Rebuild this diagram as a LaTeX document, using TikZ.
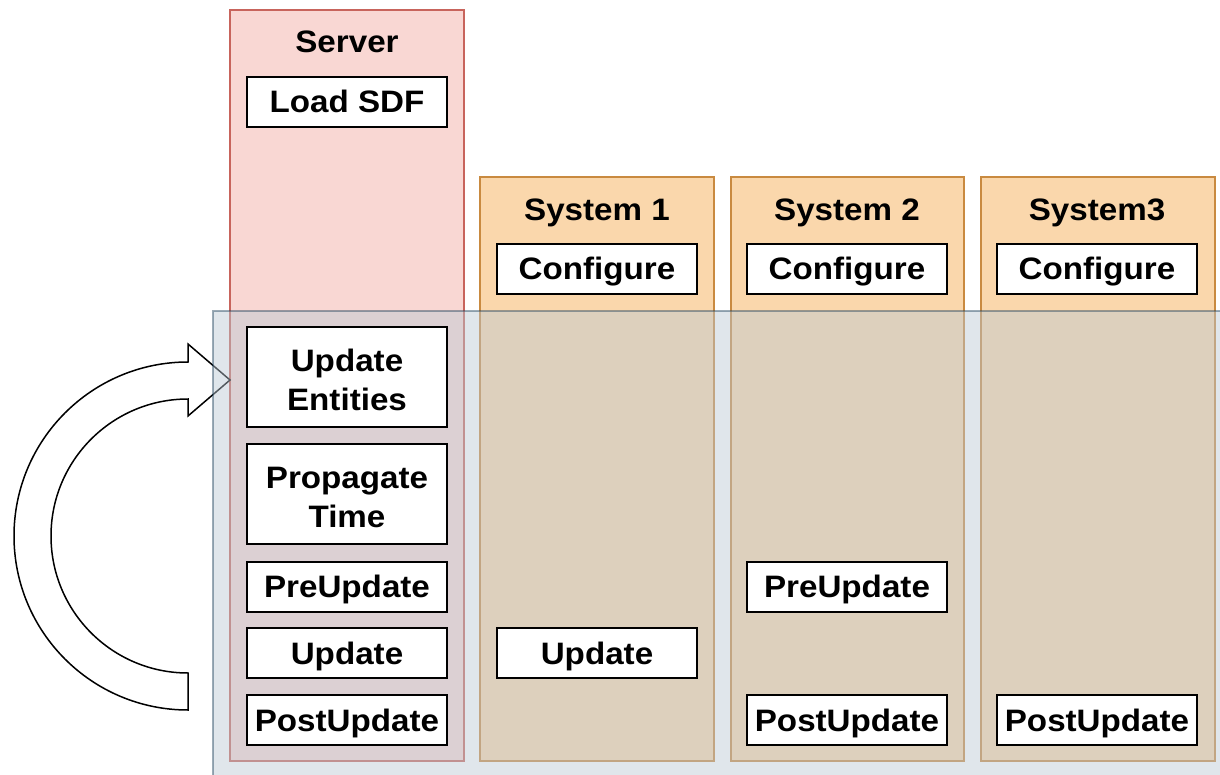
\documentclass[tikz,border=0pt]{standalone}
\usepackage{fontspec}
\setmainfont{Liberation Sans}[FakeStretch=1.07]
\definecolor{srvfill}{HTML}{F9D7D3}
\definecolor{srvdraw}{HTML}{C8645C}
\definecolor{sysfill}{HTML}{FAD7AC}
\definecolor{sysdraw}{HTML}{C98A40}
\definecolor{loopfill}{HTML}{BAC8D3}
\definecolor{loopdraw}{HTML}{23445D}
\tikzset{
  lbl/.style={font=\bfseries\fontsize{31}{39}\selectfont, align=center},
  title/.style={lbl, text height=22pt, text depth=0pt},
  servercol/.style={draw=srvdraw, fill=srvfill, line width=1.5pt, inner sep=0pt},
  syscol/.style={draw=sysdraw, fill=sysfill, line width=1.5pt, inner sep=0pt},
  stage/.style={lbl, draw=black, fill=white, line width=2pt, inner sep=0pt,
    minimum width=200pt},
  onerow/.style={stage, minimum height=50pt, text height=22pt, text depth=0pt},
  tworow/.style={stage, minimum height=100pt, text height=67pt, text depth=0pt},
  looparrow/.style={draw=black, fill=white, line width=1.5pt, line join=miter},
}
\begin{document}
\begin{tikzpicture}[x=1pt, y=-1pt]
  \useasboundingbox (0,0) rectangle (1220,775);

  % column backgrounds
  \node[servercol, minimum width=234pt, minimum height=751pt] (server) at (347,385.5) {};
  \node[syscol, minimum width=234pt, minimum height=584pt] (sys1) at (597,469) {};
  \node[syscol, minimum width=233pt, minimum height=584pt] (sys2) at (847.5,469) {};
  \node[syscol, minimum width=234pt, minimum height=584pt] (sys3) at (1098,469) {};

  % loop arrow back to the start of the iteration
  \draw[looparrow] (188,710) arc[start angle=-90, end angle=-270, radius=174pt]
    -- (188,344) -- (230,380) -- (188,416) -- (188,399)
    arc[start angle=90, end angle=270, radius=137pt] -- cycle;

  % simulation loop region
  \node[draw=loopdraw, fill=loopfill, opacity=0.45, line width=1.5pt, inner sep=0pt,
    minimum width=1012pt, minimum height=469pt] (loop) at (719,545.5) {};

  % titles
  \node[title] (servertitle) at (347,42) {Server};
  \node[title] (sys1title) at (597,210) {System 1};
  \node[title] (sys2title) at (847,210) {System 2};
  \node[title] (sys3title) at (1097,210) {System3};

  % server stages
  \node[onerow] (loadsdf) at (347,102) {Load SDF};
  \node[tworow] (entities) at (347,377) {Update\\Entities};
  \node[tworow] (proptime) at (347,494) {Propagate\\Time};
  \node[onerow] (srvpre) at (347,586.5) {PreUpdate};
  \node[onerow] (srvupd) at (347,653) {Update};
  \node[onerow] (srvpost) at (347,720) {PostUpdate};

  % system stages
  \node[onerow] (cfg1) at (597,269) {Configure};
  \node[onerow] (upd1) at (597,653) {Update};
  \node[onerow] (cfg2) at (847,269) {Configure};
  \node[onerow] (pre2) at (847,586.5) {PreUpdate};
  \node[onerow] (post2) at (847,720) {PostUpdate};
  \node[onerow] (cfg3) at (1097,269) {Configure};
  \node[onerow] (post3) at (1097,720) {PostUpdate};
\end{tikzpicture}
\end{document}
